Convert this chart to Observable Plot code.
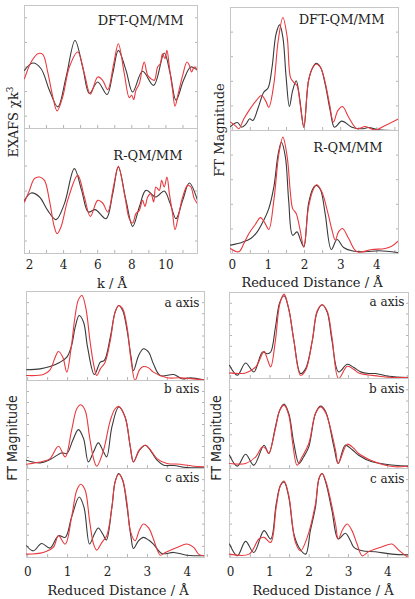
<!DOCTYPE html>
<html><head><meta charset="utf-8">
<script src="https://cdn.jsdelivr.net/npm/d3@7"></script>
<script src="https://cdn.jsdelivr.net/npm/@observablehq/plot@0.6"></script>
<style>
body{margin:0;background:#fff;}
#fig{position:relative;width:415px;height:599px;overflow:hidden;background:#fff;}
#fig svg{position:absolute;}
.lbl{position:absolute;white-space:nowrap;font-family:"DejaVu Serif",serif;color:#222;font-size:13px;transform:translate(-50%,-50%);}
.rot{transform:translate(-50%,-50%) rotate(-90deg);}
.narrow{font-family:"Liberation Sans Narrow","DejaVu Sans Condensed",sans-serif;font-size:14px;}
</style></head><body><div id="fig"></div><script>
// ---------- tick labels & titles ----------
const kTicks = [2, 4, 6, 8, 10];
const rTicks = [0, 1, 2, 3, 4];
const topTitles = ["DFT-QM/MM", "R-QM/MM"];
const axisTitles = ["a axis", "b axis", "c axis"];

// ---------- EXAFS chi k^3 (k, value) ----------
const exDftBlack = [[1.71,-0.27],[2.2,0.32],[2.68,-0.14],[3.17,-1.89],[3.66,-3.24],[4.15,-0.81],[4.67,2.16],[5.12,0],[5.51,-2.16],[6.0,-1.22],[6.55,-2.24],[6.88,-0.54],[7.21,1.35],[7.66,-0.27],[8.05,-2.03],[8.63,-0.35],[9.28,-1.49],[9.9,1.14],[10.25,-0.54],[10.59,-2.7],[11.03,-1.08],[11.46,0],[11.85,-0.27]];
const exDftRed = [[1.71,-0.95],[2.1,0.41],[2.49,1.08],[2.78,1.03],[3.07,-0.41],[3.37,-2.43],[3.62,-3.57],[3.95,-2.43],[4.34,0],[4.83,1.22],[5.22,-0.54],[5.57,-2.22],[6.0,-0.81],[6.29,-1.08],[6.59,-1.84],[6.94,0.27],[7.21,1.89],[7.56,-0.54],[7.85,-2.49],[7.99,-2.3],[8.11,-2.65],[8.24,-1.89],[8.44,-1.35],[8.63,0],[8.73,0.41],[8.93,-0.68],[9.12,-0.95],[9.32,-1.08],[9.51,0],[9.67,0.27],[9.8,1.08],[9.94,0.68],[10.06,1.35],[10.2,0],[10.39,-1.89],[10.53,-3.19],[10.72,-2.16],[10.98,-0.68],[11.23,0.41],[11.37,0.14],[11.5,-0.41],[11.66,0],[11.85,-0.27]];
const exRqmBlack = [[1.71,-0.75],[2.1,-0.16],[2.59,-0.48],[3.07,-1.55],[3.56,-2.29],[4.05,-1.01],[4.63,1.79],[5.06,0.05],[5.45,-1.68],[5.86,-1.49],[6.49,-2.21],[6.88,-0.21],[7.21,1.92],[7.66,-0.75],[8.05,-2.83],[8.44,-1.28],[8.83,0.05],[9.41,-0.48],[9.9,0],[10.25,-1.01],[10.59,-2.21],[10.98,-0.75],[11.37,0.64],[11.85,-0.75]];
const exRqmRed = [[1.71,-0.88],[2.0,0.05],[2.29,0.99],[2.59,1.12],[2.88,0.85],[3.17,-0.75],[3.46,-2.88],[3.62,-3.41],[3.85,-2.88],[4.24,-0.75],[4.83,1.25],[5.22,-0.48],[5.57,-2.03],[6.0,-0.75],[6.29,-0.96],[6.59,-1.68],[6.94,0.45],[7.21,1.97],[7.6,-0.48],[7.85,-2.21],[8.05,-2.56],[8.24,-1.81],[8.44,-1.55],[8.63,-0.75],[8.77,-1.23],[8.93,-0.48],[9.12,-0.21],[9.28,-0.88],[9.41,0.32],[9.61,0.05],[9.75,0.85],[9.9,0.32],[10.06,1.12],[10.2,-0.21],[10.39,-1.81],[10.53,-3.09],[10.72,-2.08],[10.98,-0.48],[11.27,0.45],[11.46,0.32],[11.66,-0.61],[11.85,-1.01]];

// ---------- FT magnitude, top right (R, value) ----------
const ftDftBlack = [[-0.05,0.32],[0.14,0.65],[0.26,0.27],[0.37,0.49],[0.48,0.95],[0.57,0.81],[0.72,1.89],[0.87,3.11],[0.99,3.46],[1.1,5.14],[1.21,7.84],[1.31,8.59],[1.4,7.57],[1.49,4.32],[1.58,1.95],[1.67,3.24],[1.77,4.05],[1.86,2.7],[1.98,0.27],[2.11,4.05],[2.23,5.14],[2.32,5.46],[2.44,5.14],[2.57,3.78],[2.71,1.62],[2.83,0.27],[3.03,0.76],[3.31,0.27],[3.59,0.14],[3.77,0.24],[4.05,0.05],[4.6,0]];
const ftDftRed = [[-0.05,0.68],[0.09,0.38],[0.18,0.14],[0.32,0.95],[0.46,1.62],[0.64,2.35],[0.81,2.84],[0.92,2.43],[1.01,1.89],[1.15,3.78],[1.27,7.3],[1.4,9.19],[1.52,7.57],[1.61,4.32],[1.7,3.92],[1.79,3.65],[1.89,1.89],[1.98,0.27],[2.11,4.05],[2.23,5.14],[2.32,5.41],[2.44,5.14],[2.57,3.92],[2.69,2.16],[2.8,0.68],[2.92,1.62],[3.05,1.95],[3.22,1.08],[3.45,0.14],[3.68,0.32],[3.95,0.05],[4.23,0.41],[4.6,0.95]];
const ftRqmBlack = [[-0.05,0.68],[0.28,0.92],[0.51,1.22],[0.69,1.76],[0.87,2.7],[1.01,3.65],[1.15,5.41],[1.27,8.11],[1.36,9.05],[1.47,7.84],[1.56,4.32],[1.67,1.49],[1.79,1.76],[1.89,1.08],[1.98,0.54],[2.11,4.05],[2.23,5.27],[2.32,5.54],[2.44,5.19],[2.57,3.24],[2.74,0.32],[2.9,1.14],[3.08,0.49],[3.31,0.22],[3.68,0.14],[4.05,0.22],[4.6,0.08]];
const ftRqmRed = [[-0.05,0.41],[0.18,0.14],[0.32,0.81],[0.46,1.62],[0.64,2.38],[0.78,2.92],[0.9,2.49],[1.01,1.95],[1.15,4.32],[1.29,8.11],[1.4,9.46],[1.52,7.84],[1.61,4.86],[1.67,3.65],[1.77,3.24],[1.86,2.16],[1.98,0.54],[2.11,3.78],[2.25,5.27],[2.34,5.59],[2.48,5.0],[2.65,3.24],[2.76,1.89],[2.85,1.08],[2.94,1.76],[3.05,2.03],[3.22,1.22],[3.45,0.14],[3.86,0.32],[4.23,0.41],[4.41,0.59],[4.6,1.03]];

// ---------- FT magnitude, bottom left (R, value) ----------
const blABlack = [[-0.03,1.2],[0.31,1.31],[0.56,1.57],[0.81,2.06],[0.98,2.62],[1.1,3.93],[1.19,5.99],[1.29,7.3],[1.4,6.55],[1.5,3.75],[1.67,0.67],[1.82,2.06],[1.92,2.25],[2.07,4.87],[2.19,7.68],[2.28,8.43],[2.38,7.87],[2.49,5.62],[2.59,2.62],[2.65,1.12],[2.78,2.81],[2.9,3.56],[3.03,3.18],[3.15,1.87],[3.32,0.56],[3.66,0.67],[3.87,0.19],[4.08,0.3],[4.41,0.07]];
const blARed = [[-0.03,0.56],[0.39,0.67],[0.56,1.2],[0.69,2.62],[0.77,3.26],[0.88,2.62],[0.98,0.94],[1.08,3.37],[1.19,7.3],[1.27,9.06],[1.36,9.55],[1.46,8.05],[1.56,4.49],[1.65,1.87],[1.73,0.56],[1.82,1.31],[1.94,2.06],[2.07,4.49],[2.19,7.68],[2.28,8.43],[2.38,8.05],[2.49,5.99],[2.59,2.25],[2.69,0],[2.8,1.2],[2.9,1.57],[3.03,1.42],[3.15,0.94],[3.49,0.3],[3.82,0.3],[4.41,0.07]];
const blBBlack = [[-0.03,0.94],[0.31,0.64],[0.56,1.02],[0.85,1.77],[0.98,1.7],[1.13,3.21],[1.27,4.42],[1.4,3.4],[1.52,0.75],[1.65,1.89],[1.77,2.91],[1.9,1.89],[1.98,1.32],[2.11,4.72],[2.28,6.98],[2.44,5.85],[2.57,2.45],[2.65,0.75],[2.8,2.08],[2.95,2.64],[3.07,2.08],[3.24,0.94],[3.41,0.38],[3.66,0.34],[3.99,0.11],[4.41,0.08]];
const blBRed = [[-0.03,0.49],[0.39,0.83],[0.56,1.13],[0.77,2.53],[0.94,1.32],[1.1,4.34],[1.23,6.79],[1.33,7.25],[1.44,6.6],[1.55,3.58],[1.65,1.13],[1.73,0.26],[1.9,2.08],[2.07,5.47],[2.19,6.79],[2.28,7.06],[2.44,5.85],[2.57,2.53],[2.65,0.75],[2.8,2.15],[2.95,2.64],[3.07,2.15],[3.24,1.13],[3.49,0.57],[3.82,0.49],[4.16,0.26],[4.41,0.19]];
const blCBlack = [[-0.03,1.32],[0.14,0.75],[0.35,1.58],[0.56,1.06],[0.77,2.45],[0.94,2.26],[1.1,4.53],[1.29,6.79],[1.41,5.66],[1.55,1.51],[1.67,2.64],[1.77,3.32],[1.88,2.64],[1.97,1.96],[2.11,5.66],[2.19,8.49],[2.28,9.43],[2.38,8.68],[2.49,5.66],[2.59,2.26],[2.65,1.02],[2.78,1.89],[2.9,2.26],[3.03,1.96],[3.15,1.51],[3.36,0.45],[3.66,0.57],[3.99,0.26],[4.41,0.19]];
const blCRed = [[-0.03,0.38],[0.39,0.57],[0.64,1.13],[0.77,2.45],[0.94,1.51],[1.1,4.53],[1.23,7.55],[1.33,8.23],[1.44,7.55],[1.55,4.15],[1.65,1.51],[1.73,0.83],[1.86,1.7],[1.98,2.45],[2.11,5.66],[2.19,8.49],[2.28,9.36],[2.38,8.68],[2.49,6.04],[2.57,3.02],[2.69,1.89],[2.8,3.09],[2.9,3.77],[3.03,3.32],[3.15,2.08],[3.24,0.94],[3.32,0.26],[3.45,0.57],[3.74,1.13],[3.99,1.51],[4.16,1.13],[4.28,0.38],[4.41,0.19]];

// ---------- FT magnitude, bottom right (R, value) ----------
const brABlack = [[-0.03,1.54],[0.17,0.38],[0.38,1.81],[0.59,0.77],[0.81,3.08],[0.93,2.88],[1.02,3.08],[1.14,5.96],[1.25,8.85],[1.36,9.62],[1.48,8.08],[1.61,4.42],[1.78,0.58],[1.91,1.15],[2.08,4.42],[2.2,7.69],[2.33,8.58],[2.46,7.69],[2.58,4.42],[2.75,0.77],[2.97,1.65],[3.14,1.27],[3.31,0.77],[3.52,0.58],[3.69,0.58],[4.03,0.27],[4.53,0.12]];
const brARed = [[-0.03,0.65],[0.38,0.65],[0.64,1.35],[0.85,3.15],[0.93,2.31],[1.02,1.35],[1.14,4.42],[1.25,8.65],[1.36,9.81],[1.48,8.08],[1.61,4.42],[1.78,0.38],[1.91,0.96],[2.08,4.42],[2.2,7.81],[2.33,8.58],[2.46,7.81],[2.58,4.81],[2.75,0],[2.97,1.42],[3.14,1.04],[3.26,0.65],[3.77,0.27],[4.11,0.12],[4.53,0.12]];
const brBBlack = [[-0.03,1.48],[0.17,0.26],[0.38,1.59],[0.59,0.37],[0.85,2.59],[0.97,1.67],[1.14,4.63],[1.25,6.48],[1.36,7.15],[1.48,6.11],[1.61,2.78],[1.74,0.56],[1.86,1.3],[1.99,2.41],[2.16,6.11],[2.29,6.93],[2.42,6.3],[2.63,2.41],[2.74,0.56],[2.92,2.59],[3.09,2.11],[3.26,1.48],[3.6,0.74],[3.94,0.48],[4.53,0.26]];
const brBRed = [[-0.03,0.56],[0.38,0.56],[0.64,1.3],[0.81,2.41],[0.89,2.22],[0.97,1.67],[1.14,4.44],[1.25,6.48],[1.36,7.04],[1.48,5.93],[1.58,2.78],[1.69,0.37],[1.82,1.3],[1.99,2.78],[2.16,6.11],[2.29,6.85],[2.42,6.19],[2.67,2.04],[2.74,0.56],[2.97,2.7],[3.14,2.22],[3.26,1.67],[3.6,0.85],[3.94,0.37],[4.19,0.19],[4.53,0.26]];
const brCBlack = [[-0.03,1.51],[0.17,0.19],[0.38,1.81],[0.59,0.57],[0.85,3.02],[1.02,2.08],[1.16,6.04],[1.27,8.11],[1.36,8.49],[1.48,6.79],[1.61,2.64],[1.74,1.13],[1.91,0.38],[2.03,3.02],[2.16,5.66],[2.25,8.87],[2.33,9.43],[2.43,8.3],[2.58,5.28],[2.74,2.08],[2.92,2.72],[3.05,1.89],[3.14,1.13],[3.35,0.75],[3.69,0.64],[4.11,0.38],[4.53,0.3]];
const brCRed = [[-0.03,0.38],[0.47,0.38],[0.72,2.08],[0.85,2.26],[1.02,1.7],[1.16,5.66],[1.27,8.11],[1.36,8.6],[1.48,6.98],[1.65,1.7],[1.78,0.75],[1.95,2.26],[2.16,6.04],[2.25,8.87],[2.33,9.43],[2.43,8.49],[2.67,3.77],[2.74,2.08],[2.86,3.21],[2.97,3.77],[3.09,3.02],[3.22,1.51],[3.35,0.19],[3.52,0.68],[3.86,1.21],[4.11,1.51],[4.28,0.83],[4.49,0.11]];

const BLACK = "#3a3a3a", RED = "#e8393f", FRAME = "#c6c6c6", TICK = "#b4b4b4";
const fig = document.getElementById("fig");

function panel(o) {
  const pad = 2;
  const w = o.x1 - o.x0, h = o.y1 - o.y0;
  const mb = o.showX ? 26 : 0;
  const pts = a => a.map(([x, y]) => ({x, y}));
  const marks = [
    Plot.axisY({anchor: "left", ticks: o.yTicks, tickSize: -3, tickFormat: () => "", stroke: TICK, label: null}),
    Plot.axisY({anchor: "right", ticks: o.yTicks, tickSize: -3, tickFormat: () => "", stroke: TICK, label: null}),
    Plot.axisX({anchor: "bottom", ticks: o.xMinor, tickSize: -3, tickFormat: () => "", stroke: TICK, label: null}),
    Plot.frame({stroke: FRAME, strokeWidth: 1}),
    Plot.line(pts(o.black), {x: "x", y: "y", stroke: BLACK, strokeWidth: 1.1, curve: "catmull-rom", clip: true}),
    Plot.line(pts(o.red), {x: "x", y: "y", stroke: RED, strokeWidth: 1.1, curve: "catmull-rom", clip: true}),
    Plot.text([o.title], {text: d => d, frameAnchor: "top-right", textAnchor: "end", lineAnchor: "middle",
      dx: -o.tdx, dy: o.tdy, fontSize: o.tSize, fill: "#222"})
  ];
  if (o.showX) {
    marks.push(Plot.axisX({anchor: "bottom", ticks: o.xTicks, tickSize: 0, tickPadding: o.tp, tickFormat: d => String(d),
      fontSize: 12, fill: "#222", label: null}));
  }
  const svg = Plot.plot({
    width: w + 2 * pad, height: h + 2 * pad + mb,
    marginLeft: pad, marginRight: pad, marginTop: pad, marginBottom: pad + mb,
    x: {domain: o.xDomain}, y: {domain: o.yDomain},
    style: {fontFamily: "DejaVu Serif, serif", fontSize: "12px", background: "transparent", overflow: "visible", color: "#222"},
    marks
  });
  svg.style.left = (o.x0 - pad) + "px";
  svg.style.top = (o.y0 - pad) + "px";
  fig.appendChild(svg);
}

function label(text, x, y, cls = "", extra = {}) {
  const d = document.createElement("div");
  d.className = "lbl " + cls;
  d.textContent = text;
  d.style.left = x + "px"; d.style.top = y + "px";
  Object.assign(d.style, extra);
  fig.appendChild(d);
  return d;
}

const exMinor = d3.range(2, 12, 1);
const rMinor = d3.range(0, 4.6, 0.5);

// top-left EXAFS
panel({x0: 24, x1: 197, y0: 5, y1: 128, xDomain: [1.71, 11.85], yDomain: [-5, 5], yTicks: d3.range(-4, 5, 2),
  xMinor: exMinor, black: exDftBlack, red: exDftRed, title: topTitles[0], tdx: 14, tdy: 15, tSize: 13});
panel({x0: 24, x1: 197, y0: 128, y1: 253, xDomain: [1.71, 11.85], yDomain: [-5, 5], yTicks: d3.range(-4, 5, 2),
  xMinor: exMinor, black: exRqmBlack, red: exRqmRed, title: topTitles[1], tdx: 15, tdy: 27, tSize: 13,
  showX: true, xTicks: kTicks, tp: 7});
// top-right FT
panel({x0: 230, x1: 398, y0: 7, y1: 130, xDomain: [-0.05, 4.6], yDomain: [0, 10], yTicks: d3.range(0, 10, 2),
  xMinor: rMinor, black: ftDftBlack, red: ftDftRed, title: topTitles[0], tdx: 14, tdy: 12, tSize: 13});
panel({x0: 230, x1: 398, y0: 130, y1: 253, xDomain: [-0.05, 4.6], yDomain: [0, 10], yTicks: d3.range(0, 10, 2),
  xMinor: rMinor, black: ftRqmBlack, red: ftRqmRed, title: topTitles[1], tdx: 16, tdy: 17, tSize: 13,
  showX: true, xTicks: rTicks, tp: 7});
// bottom-left
const bl = [[291, 380, blABlack, blARed, 12], [380, 468, blBBlack, blBRed, 9], [468, 557, blCBlack, blCRed, 10]];
bl.forEach(([y0, y1, b, r, tdy], i) => panel({x0: 26, x1: 204, y0, y1, xDomain: [-0.03, 4.43], yDomain: [0, 10],
  yTicks: d3.range(0, 10, 1.25), xMinor: rMinor, black: b, red: r, title: axisTitles[i], tdx: 5, tdy, tSize: 12,
  showX: i === 2, xTicks: rTicks, tp: 10}));
// bottom-right
const br = [[292, 378, brABlack, brARed, 10], [378, 468, brBBlack, brBRed, 11], [468, 557, brCBlack, brCRed, 11]];
br.forEach(([y0, y1, b, r, tdy], i) => panel({x0: 229, x1: 408, y0, y1, xDomain: [-0.03, 4.53], yDomain: [0, 10],
  yTicks: d3.range(0, 10, 1.25), xMinor: rMinor, black: b, red: r, title: axisTitles[i], tdx: 4, tdy, tSize: 12,
  showX: i === 2, xTicks: rTicks, tp: 10}));

// axis titles
const ex = label("EXAFS χk", 13, 122, "rot");
const sup = document.createElement("sup"); sup.textContent = "3"; sup.style.fontSize = "9px"; ex.appendChild(sup);
label("FT Magnitude", 219, 130, "rot");
label("FT Magnitude", 12, 438, "rot narrow");
label("FT Magnitude", 216, 438, "rot narrow");
label("k / Å", 112, 283);
label("Reduced Distance / Å", 312, 282);
label("Reduced Distance / Å", 118, 590);
label("Reduced Distance / Å", 323, 590);
</script></body></html>
